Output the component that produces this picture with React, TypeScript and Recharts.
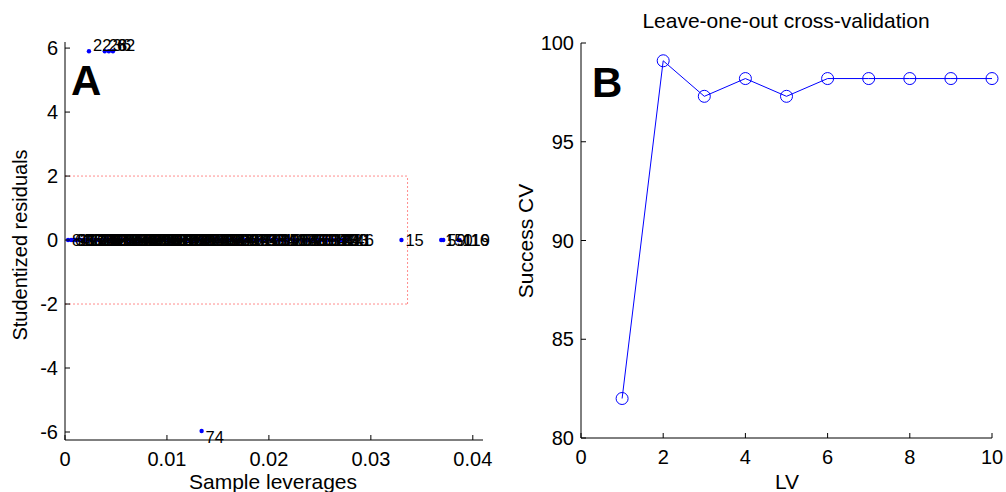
import {
  Line,
  LineChart,
  ReferenceLine,
  Scatter,
  ScatterChart,
  XAxis,
  YAxis,
} from "recharts";

const FONT = "'Liberation Sans', Arial, Helvetica, sans-serif";
const BLUE = "#0000ff";

// panel A: leverages / studentized residuals
const zeroLev = [
  0.0003, 0.0006, 0.0008, 0.0011, 0.0013, 0.0017, 0.0019, 0.0022, 0.0025, 0.0027,
  0.003, 0.0031, 0.0034, 0.0037, 0.0038, 0.0041, 0.0044, 0.0045, 0.0048, 0.005,
  0.0052, 0.0055, 0.0056, 0.0059, 0.0061, 0.0064, 0.0065, 0.0068, 0.007, 0.0072,
  0.0074, 0.0077, 0.0078, 0.008, 0.0083, 0.0085, 0.0087, 0.009, 0.0091, 0.0094,
  0.0096, 0.0097, 0.01, 0.0102, 0.0104, 0.0107, 0.0108, 0.011, 0.0113, 0.0115,
  0.0117, 0.0119, 0.0122, 0.0124, 0.0127, 0.0129, 0.0131, 0.0135, 0.0137, 0.014,
  0.0142, 0.0146, 0.0148, 0.0151, 0.0155, 0.0158, 0.016, 0.0164, 0.0167, 0.0171,
  0.0174, 0.0178, 0.0182, 0.0185, 0.019, 0.0193, 0.0198, 0.0202, 0.0205, 0.0211,
  0.0214, 0.0219, 0.0224, 0.0228, 0.0233, 0.0239, 0.0242, 0.0248, 0.0254, 0.0259,
  0.0263, 0.0268, 0.0272, 0.0276,
  0.001, 0.0015, 0.0021, 0.0029, 0.0033, 0.004, 0.0047, 0.0053, 0.0058, 0.0063,
  0.0069, 0.0075, 0.0081, 0.0086, 0.0092, 0.0099, 0.0105, 0.0112, 0.0118, 0.0125,
  0.0133, 0.0139, 0.0144, 0.0153, 0.0162, 0.0169, 0.0176, 0.0187, 0.0195, 0.0208,
  0.0217, 0.0226, 0.0236, 0.0245, 0.0251, 0.0257, 0.0266, 0.027,
];
const zeroIds = [
  8, 63, 91, 4, 130, 57, 12, 101, 33, 76,
  140, 19, 85, 47, 122, 3, 68, 110, 25, 97,
  134, 51, 7, 88, 145, 30, 61, 99, 14, 127,
  40, 83, 105, 2, 71, 139, 55, 18, 93, 124,
  45, 9, 112, 66, 137, 27, 80, 148, 35, 103,
  10, 128, 52, 86, 1, 117, 44, 95, 143, 21,
  70, 131, 38, 107, 64, 5, 152, 89, 26, 118,
  48, 141, 77, 13, 100, 58, 135, 31, 84, 126,
  41, 108, 6, 147, 73, 96, 20, 132, 54, 113,
  87, 24, 146, 43,
  11, 16, 17, 23, 29, 32, 34, 37, 39, 42,
  46, 49, 50, 53, 56, 60, 65, 67, 69, 72,
  75, 78, 79, 81, 82, 90, 92, 94, 98, 102,
  104, 106, 109, 111, 114, 115, 120, 121,
];
const farLev = [0.033, 0.0369, 0.0371, 0.0386, 0.0387];
const farIds = [15, 150, 59, 116, 119];
const highLev = [0.00235, 0.0039, 0.0043, 0.0047];
const highRes = [5.9, 5.9, 5.9, 5.9];
const highIds = [22, 28, 36, 62];
const lowLev = [0.0134];
const lowRes = [-5.97];
const lowIds = [74];

const levTicks = [0, 0.01, 0.02, 0.03, 0.04];
const resTicks = [-6, -4, -2, 0, 2, 4, 6];
const levLimit = 0.0336;
const resLimit = 2;

// panel B: cross-validation
const lvs = [1, 2, 3, 4, 5, 6, 7, 8, 9, 10];
const successCV = [82.0, 99.1, 97.3, 98.2, 97.3, 98.2, 98.2, 98.2, 98.2, 98.2];
const lvTicks = [0, 2, 4, 6, 8, 10];
const cvTicks = [80, 85, 90, 95, 100];

const scatterData = [
  ...zeroLev.map((x, i) => ({ x, y: 0, id: zeroIds[i] })),
  ...farLev.map((x, i) => ({ x, y: 0, id: farIds[i] })),
  ...highLev.map((x, i) => ({ x, y: highRes[i], id: highIds[i] })),
  ...lowLev.map((x, i) => ({ x, y: lowRes[i], id: lowIds[i] })),
];
const cvData = lvs.map((lv, i) => ({ lv, cv: successCV[i] }));

const BottomTick = ({ x, y, payload }: any) => (
  <g>
    <line x1={x} y1={y} x2={x} y2={y - 5} stroke="#000" />
    <text x={x} y={y + 26} textAnchor="middle" fontSize={20} fontFamily={FONT} fill="#000">
      {payload.value}
    </text>
  </g>
);
const LeftTick = ({ x, y, payload }: any) => (
  <g>
    <line x1={x} y1={y} x2={x + 5} y2={y} stroke="#000" />
    <text x={x - 7} y={y} dy="0.36em" textAnchor="end" fontSize={20} fontFamily={FONT} fill="#000">
      {payload.value}
    </text>
  </g>
);
const TopTick = ({ x, y }: any) => <line x1={x} y1={y} x2={x} y2={y + 5} stroke="#000" />;
const RightTick = ({ x, y }: any) => <line x1={x} y1={y} x2={x - 5} y2={y} stroke="#000" />;

const Dot = ({ cx, cy }: any) => <circle cx={cx} cy={cy} r={2.2} fill={BLUE} />;

const IdLabel = ({ cx, cy, payload }: any) => {
  const dy = payload.y > 0 ? -6 : payload.y < 0 ? 6 : 0;
  return (
    <text x={cx + 4} y={cy + dy} dy="0.36em" fontSize={16.5} fontFamily={FONT} fill="#000">
      {payload.id}
    </text>
  );
};

const axisLine = { stroke: "#000", strokeWidth: 1 };
const dash = { stroke: "#ff8c8c", strokeDasharray: "2 2", strokeWidth: 1 };

export default function App() {
  return (
    <div style={{ position: "absolute", left: 0, top: 0, width: 1006, height: 492, background: "#fff", overflow: "hidden" }}>
      <div style={{ position: "absolute", left: 0, top: 0 }}>
        <ScatterChart width={500} height={492} margin={{ top: 42, right: 17, bottom: 0, left: 0 }}>
          <XAxis xAxisId="b" type="number" dataKey="x" domain={[0, 0.041]} ticks={levTicks}
            height={52} tickSize={0} tickMargin={0} tickLine={false} axisLine={axisLine} tick={<BottomTick />} />
          <XAxis xAxisId="t" orientation="top" type="number" dataKey="x" domain={[0, 0.041]} ticks={levTicks}
            height={0} tickSize={0} tickMargin={0} tickLine={false} axisLine={axisLine} tick={<TopTick />} />
          <YAxis yAxisId="l" type="number" dataKey="y" domain={[-6.25, 6.19]} ticks={resTicks}
            width={65} tickSize={0} tickMargin={0} tickLine={false} axisLine={axisLine} tick={<LeftTick />} />
          <YAxis yAxisId="r" orientation="right" type="number" dataKey="y" domain={[-6.25, 6.19]} ticks={resTicks}
            width={0} tickSize={0} tickMargin={0} tickLine={false} axisLine={axisLine} tick={<RightTick />} />
          <ReferenceLine xAxisId="b" yAxisId="l" segment={[{ x: 0, y: resLimit }, { x: levLimit, y: resLimit }]} {...dash} />
          <ReferenceLine xAxisId="b" yAxisId="l" segment={[{ x: 0, y: -resLimit }, { x: levLimit, y: -resLimit }]} {...dash} />
          <ReferenceLine xAxisId="b" yAxisId="l" segment={[{ x: levLimit, y: -resLimit }, { x: levLimit, y: resLimit }]} {...dash} />
          <Scatter xAxisId="b" yAxisId="l" data={scatterData} shape={<Dot />} isAnimationActive={false} />
          <Scatter xAxisId="b" yAxisId="l" data={scatterData} shape={<IdLabel />} isAnimationActive={false} />
        </ScatterChart>
      </div>
      <div style={{ position: "absolute", left: 500, top: 0 }}>
        <LineChart width={506} height={492} data={cvData} margin={{ top: 43, right: 14, bottom: 0, left: 0 }}>
          <XAxis xAxisId="b" type="number" dataKey="lv" domain={[0, 10]} ticks={lvTicks}
            height={54} tickSize={0} tickMargin={0} tickLine={false} axisLine={axisLine} tick={<BottomTick />} />
          <XAxis xAxisId="t" orientation="top" type="number" dataKey="lv" domain={[0, 10]} ticks={lvTicks}
            height={0} tickSize={0} tickMargin={0} tickLine={false} axisLine={axisLine} tick={<TopTick />} />
          <YAxis yAxisId="l" type="number" domain={[80, 100]} ticks={cvTicks}
            width={81} tickSize={0} tickMargin={0} tickLine={false} axisLine={axisLine} tick={<LeftTick />} />
          <YAxis yAxisId="r" orientation="right" type="number" domain={[80, 100]} ticks={cvTicks}
            width={0} tickSize={0} tickMargin={0} tickLine={false} axisLine={axisLine} tick={<RightTick />} />
          <Line xAxisId="b" yAxisId="l" type="linear" dataKey="cv" stroke={BLUE} strokeWidth={1}
            dot={{ r: 6, stroke: BLUE, strokeWidth: 1, fill: "none" }} isAnimationActive={false} />
        </LineChart>
      </div>
      <svg width={1006} height={492} style={{ position: "absolute", left: 0, top: 0, pointerEvents: "none" }}
        fontFamily={FONT} fill="#000">
        <text x={71} y={95} fontSize={42} fontWeight="bold">A</text>
        <text x={592} y={97} fontSize={42} fontWeight="bold">B</text>
        <text x={786} y={28} fontSize={21} textAnchor="middle">Leave-one-out cross-validation</text>
        <text x={273} y={489} fontSize={21} textAnchor="middle">Sample leverages</text>
        <text x={787} y={489} fontSize={21} textAnchor="middle">LV</text>
        <text transform="translate(27,245) rotate(-90)" fontSize={20} textAnchor="middle">Studentized residuals</text>
        <text transform="translate(533,241) rotate(-90)" fontSize={21} textAnchor="middle">Success CV</text>
      </svg>
    </div>
  );
}
